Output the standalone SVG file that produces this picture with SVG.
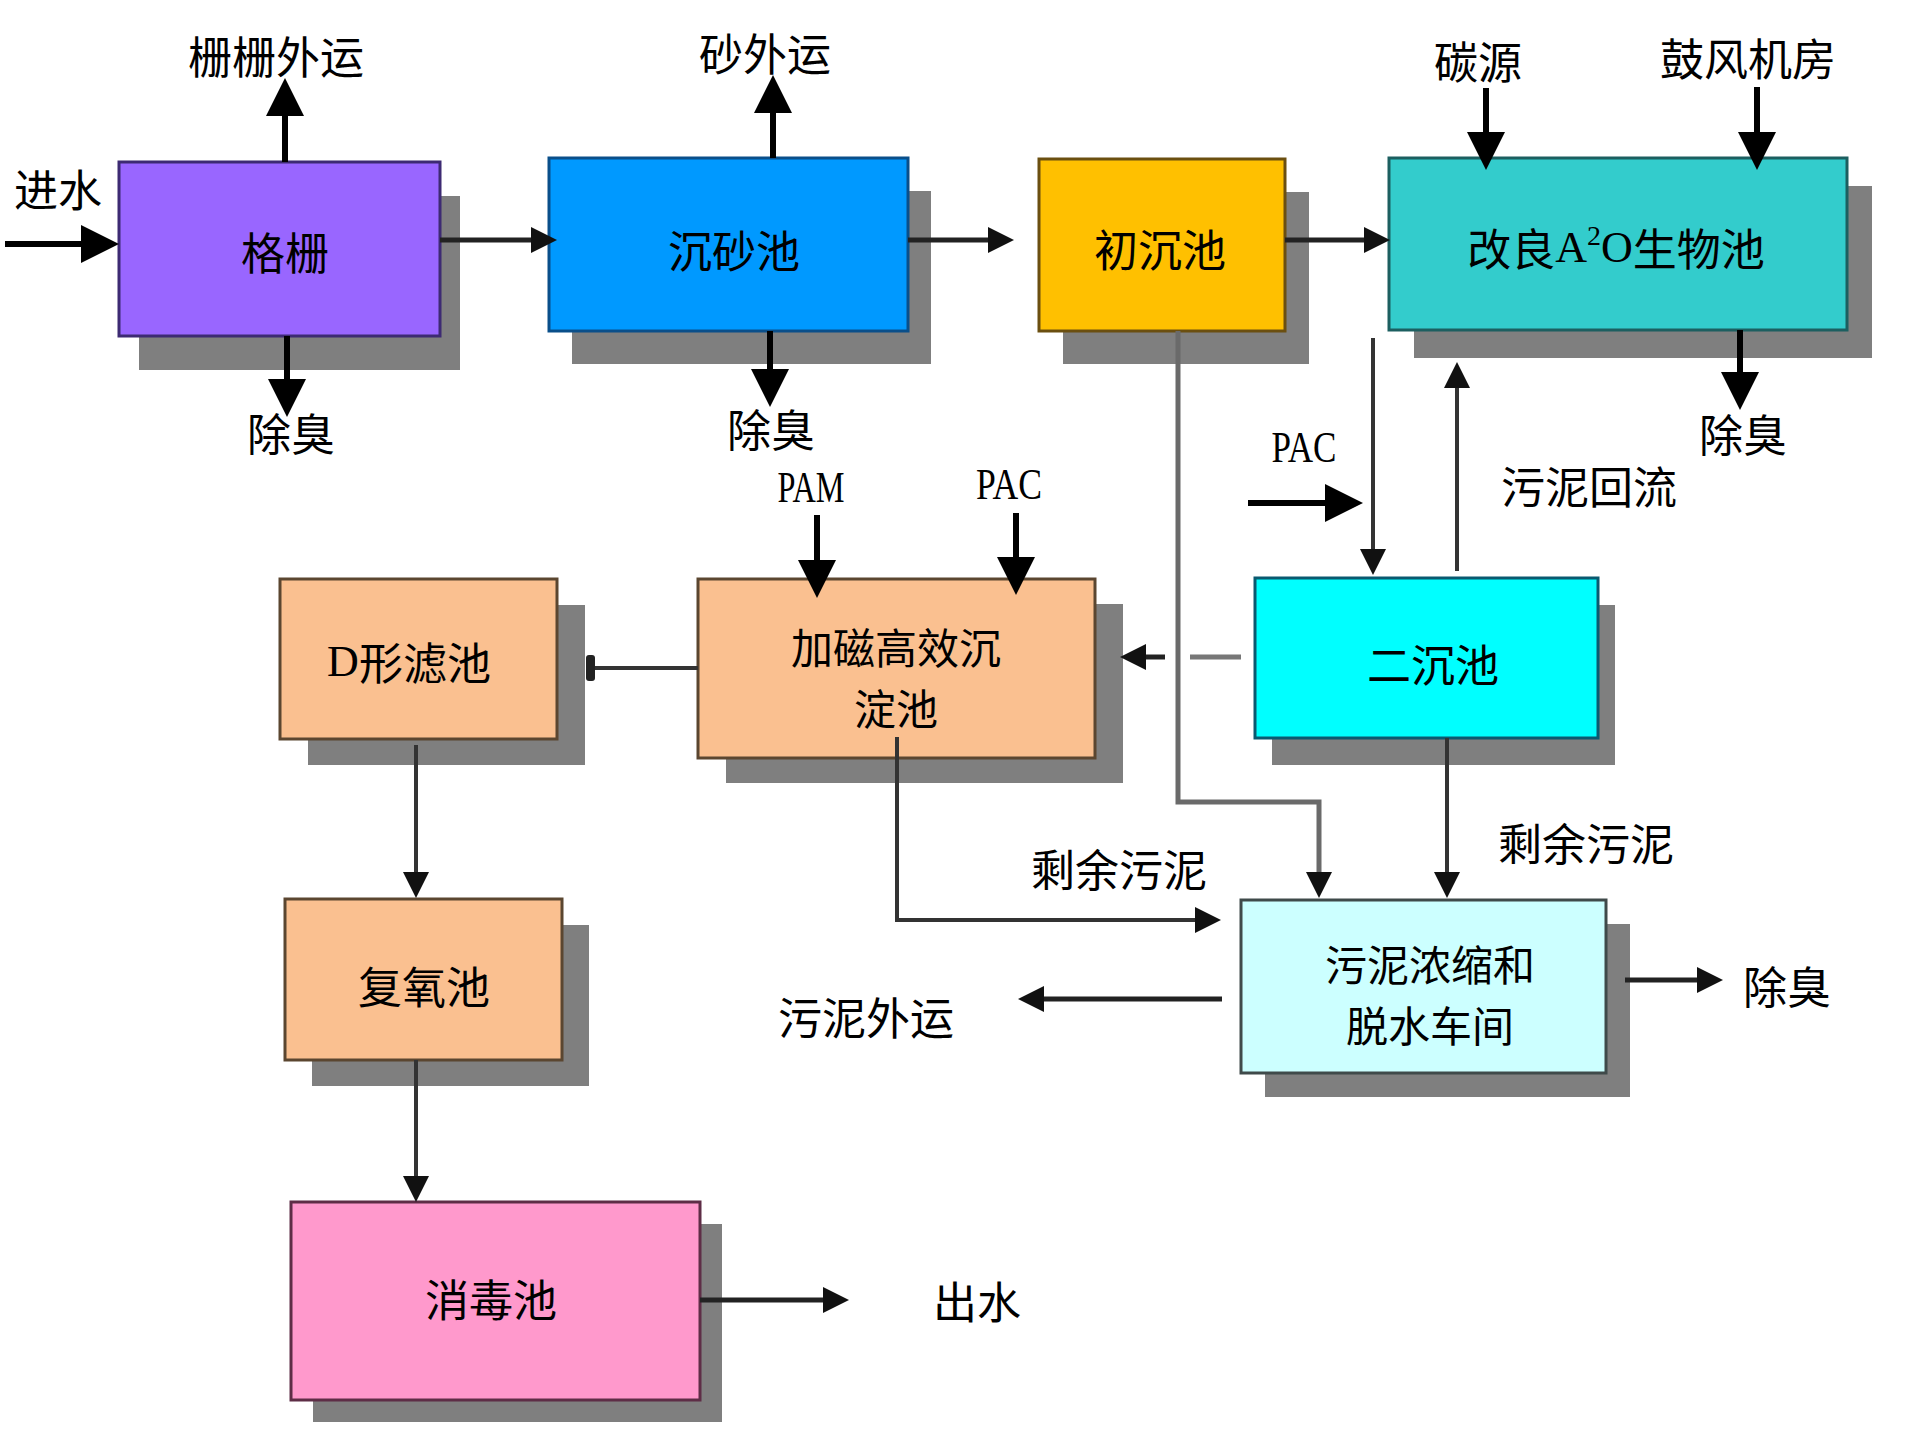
<svg xmlns="http://www.w3.org/2000/svg" width="1917" height="1430" viewBox="0 0 1917 1430">
<defs>
<style>
.t{font-family:"Noto Sans CJK SC","Liberation Sans",sans-serif;font-size:44px;fill:#000;text-anchor:middle;dominant-baseline:central}
.t2{font-size:42px}
.l{font-family:"Liberation Serif","Noto Sans CJK SC",serif}
.sh{fill:#7f7f7f}
.box{stroke-width:3}
.big{fill:none;stroke:#000;stroke-width:6;marker-end:url(#big)}
.sm{fill:none;stroke:#222;stroke-width:5;marker-end:url(#small)}
.thin{fill:none;stroke:#333;stroke-width:4;marker-end:url(#small)}
.gray{fill:none;stroke:#6a6a6a;stroke-width:5}
</style>
<marker id="big" markerUnits="userSpaceOnUse" markerWidth="38" markerHeight="38" viewBox="0 0 38 38" refX="4" refY="19" orient="auto"><path d="M0,0 L38,19 L0,38 z" fill="#000"/></marker>
<marker id="small" markerUnits="userSpaceOnUse" markerWidth="26" markerHeight="26" viewBox="0 0 26 26" refX="4" refY="13" orient="auto"><path d="M0,0 L26,13 L0,26 z" fill="#111"/></marker>
<marker id="stub" markerUnits="userSpaceOnUse" markerWidth="10" markerHeight="26" viewBox="0 0 10 26" refX="2" refY="13" orient="auto"><rect x="0" y="0" width="9" height="26" rx="3" fill="#222"/></marker>
</defs>
<rect width="1917" height="1430" fill="#fff"/>

<g id="node-geshan">
<rect class="sh" x="139" y="196" width="321" height="174"/>
<rect class="box" x="119" y="162" width="321" height="174" fill="#9966FF" stroke="#3d2a73"/>
<text class="t" x="285" y="251">格栅</text>
</g>
<g id="node-chenshachi">
<rect class="sh" x="572" y="191" width="359" height="173"/>
<rect class="box" x="549" y="158" width="359" height="173" fill="#0099FF" stroke="#0a4f8a"/>
<text class="t" x="734" y="249">沉砂池</text>
</g>
<g id="node-chuchenchi">
<rect class="sh" x="1063" y="192" width="246" height="172"/>
<rect class="box" x="1039" y="159" width="246" height="172" fill="#FFC000" stroke="#6b4f10"/>
<text class="t" x="1160" y="248">初沉池</text>
</g>
<g id="node-a2o">
<rect class="sh" x="1414" y="186" width="458" height="172"/>
<rect class="box" x="1389" y="158" width="458" height="172" fill="#33CCCC" stroke="#1c5f60"/>
<text class="t" x="1616" y="247">改良<tspan class="l">A</tspan><tspan class="l" font-size="28" dy="-12">2</tspan><tspan class="l" dy="12">O</tspan>生物池</text>
</g>
<g id="node-erchenchi">
<rect class="sh" x="1272" y="605" width="343" height="160"/>
<rect class="box" x="1255" y="578" width="343" height="160" fill="#00FFFF" stroke="#0a5a70"/>
<text class="t" x="1433" y="663">二沉池</text>
</g>
<g id="node-jiaci">
<rect class="sh" x="726" y="604" width="397" height="179"/>
<rect class="box" x="698" y="579" width="397" height="179" fill="#FAC090" stroke="#5b4630"/>
<text class="t t2" x="896" y="645">加磁高效沉</text>
<text class="t t2" x="896" y="706">淀池</text>
</g>
<g id="node-dlvchi">
<rect class="sh" x="308" y="605" width="277" height="160"/>
<rect class="box" x="280" y="579" width="277" height="160" fill="#FAC090" stroke="#5b4630"/>
<text class="t" x="409" y="661"><tspan class="l">D</tspan>形滤池</text>
</g>
<g id="node-fuyangchi">
<rect class="sh" x="312" y="925" width="277" height="161"/>
<rect class="box" x="285" y="899" width="277" height="161" fill="#FAC090" stroke="#5b4630"/>
<text class="t" x="424" y="985">复氧池</text>
</g>
<g id="node-wuni">
<rect class="sh" x="1265" y="924" width="365" height="173"/>
<rect class="box" x="1241" y="900" width="365" height="173" fill="#CCFFFF" stroke="#3f4a4a"/>
<text class="t t2" x="1430" y="962">污泥浓缩和</text>
<text class="t t2" x="1430" y="1023">脱水车间</text>
</g>
<g id="node-xiaodu">
<rect class="sh" x="313" y="1224" width="409" height="198"/>
<rect class="box" x="291" y="1202" width="409" height="198" fill="#FF99CC" stroke="#5e2d46"/>
<text class="t" x="491" y="1298">消毒池</text>
</g>

<g id="connectors">
<path class="big" d="M5,244 H85"/>
<path class="big" d="M285,162 V112"/>
<path class="big" d="M287,336 V383"/>
<path class="big" d="M773,158 V109"/>
<path class="big" d="M770,331 V373"/>
<path class="big" d="M1486,88 V136"/>
<path class="big" d="M1757,87 V136"/>
<path class="big" d="M1740,330 V376"/>
<path class="big" d="M817,515 V564"/>
<path class="big" d="M1016,513 V561"/>
<path class="big" d="M1248,503 H1329"/>
<path class="sm" d="M440,240 H535"/>
<path class="sm" d="M908,240 H992"/>
<path class="sm" d="M1285,240 H1368"/>
<path class="gray" d="M1178,331 V802 H1319 V876" marker-end="url(#small)"/>
<path class="thin" d="M1373,338 V553"/>
<path class="thin" d="M1457,571 V384"/>
<path fill="none" stroke="#777" stroke-width="5" d="M1241,657 H1190"/>
<path class="sm" d="M1165,657 H1142"/>
<path fill="none" stroke="#333" stroke-width="4" d="M698,668 H593" marker-end="url(#stub)"/>
<path class="thin" d="M1447,738 V876"/>
<path class="thin" d="M897,737 V920 H1199"/>
<path class="sm" d="M1222,999 H1040"/>
<path class="sm" d="M1625,980 H1701"/>
<path class="thin" d="M416,745 V876"/>
<path class="thin" d="M416,1060 V1180"/>
<path class="sm" d="M700,1300 H827"/>
</g>

<g id="labels">
<text class="t" x="276" y="55">栅栅外运</text>
<text class="t" x="58" y="188">进水</text>
<text class="t" x="291" y="432">除臭</text>
<text class="t" x="765" y="52">砂外运</text>
<text class="t" x="771" y="428">除臭</text>
<text class="t" x="1478" y="60">碳源</text>
<text class="t" x="1748" y="57">鼓风机房</text>
<text class="t" x="1743" y="433">除臭</text>
<text class="t l" x="811" y="487" font-size="47" textLength="67" lengthAdjust="spacingAndGlyphs">PAM</text>
<text class="t l" x="1009" y="484" font-size="47" textLength="66" lengthAdjust="spacingAndGlyphs">PAC</text>
<text class="t l" x="1304" y="447" font-size="47" textLength="65" lengthAdjust="spacingAndGlyphs">PAC</text>
<text class="t" x="1589" y="485">污泥回流</text>
<text class="t" x="1586" y="842">剩余污泥</text>
<text class="t" x="1119" y="868">剩余污泥</text>
<text class="t" x="1787" y="985">除臭</text>
<text class="t" x="866" y="1016">污泥外运</text>
<text class="t" x="977" y="1300">出水</text>
</g>
</svg>
